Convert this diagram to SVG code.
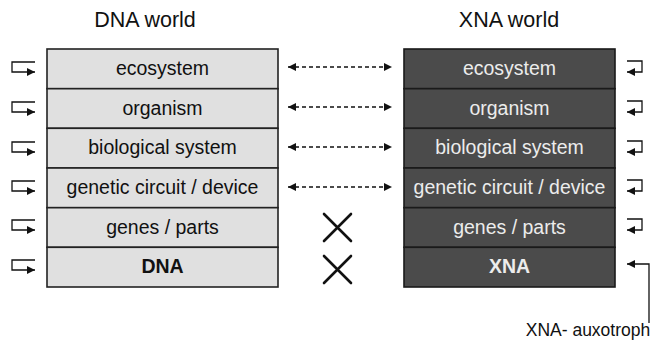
<svg xmlns="http://www.w3.org/2000/svg" width="652" height="346" viewBox="0 0 652 346">
<style>
.t{font-family:"Liberation Sans",Arial,sans-serif;text-anchor:middle}
.title{font-size:21.5px;fill:#111}
.lrow{fill:#e0e0e0;stroke:#222;stroke-width:1.6}
.rrow{fill:#4b4b4b;stroke:#1a1a1a;stroke-width:1.6}
.lt{font-size:19.5px;fill:#111}
.rt{font-size:19.5px;fill:#ececec}
.b{font-weight:bold}
.bent{fill:none;stroke:#111;stroke-width:1.3}
.dash{fill:none;stroke:#111;stroke-width:1.3;stroke-dasharray:4 3}
.x{stroke:#111;stroke-width:2.6;stroke-linecap:round}
</style>
<defs>
<marker id="ah" viewBox="0 0 10 10" refX="10" refY="5" markerWidth="10" markerHeight="8" markerUnits="userSpaceOnUse" orient="auto-start-reverse">
<path d="M0,0 L10,5 L0,10 z" fill="#111"/>
</marker>
</defs>
<text class="t title" x="145" y="27">DNA world</text>
<text class="t title" x="509" y="27">XNA world</text>

<g id="dna-ecosystem"><rect class="lrow" x="47" y="49" width="231" height="39.7"/><text class="t lt" x="162.5" y="75">ecosystem</text></g>
<g id="dna-organism"><rect class="lrow" x="47" y="88.7" width="231" height="39.6"/><text class="t lt" x="162.5" y="114.5">organism</text></g>
<g id="dna-biosystem"><rect class="lrow" x="47" y="128.3" width="231" height="39.7"/><text class="t lt" x="162.5" y="154">biological system</text></g>
<g id="dna-circuit"><rect class="lrow" x="47" y="168" width="231" height="39.7"/><text class="t lt" x="162.5" y="194">genetic circuit / device</text></g>
<g id="dna-genes"><rect class="lrow" x="47" y="207.7" width="231" height="39.6"/><text class="t lt" x="162.5" y="233.5">genes / parts</text></g>
<g id="dna-dna"><rect class="lrow" x="47" y="247.3" width="231" height="39.7"/><text class="t lt b" x="162.5" y="273">DNA</text></g>

<g id="xna-ecosystem"><rect class="rrow" x="404" y="49" width="211" height="39.7"/><text class="t rt" x="509.5" y="75">ecosystem</text></g>
<g id="xna-organism"><rect class="rrow" x="404" y="88.7" width="211" height="39.6"/><text class="t rt" x="509.5" y="114.5">organism</text></g>
<g id="xna-biosystem"><rect class="rrow" x="404" y="128.3" width="211" height="39.7"/><text class="t rt" x="509.5" y="154">biological system</text></g>
<g id="xna-circuit"><rect class="rrow" x="404" y="168" width="211" height="39.7"/><text class="t rt" x="509.5" y="194">genetic circuit / device</text></g>
<g id="xna-genes"><rect class="rrow" x="404" y="207.7" width="211" height="39.6"/><text class="t rt" x="509.5" y="233.5">genes / parts</text></g>
<g id="xna-xna"><rect class="rrow" x="404" y="247.3" width="211" height="39.7"/><text class="t rt b" x="509.5" y="273">XNA</text></g>

<g id="connectors">
<path class="bent" d="M35,62 H12 V72 H35" marker-end="url(#ah)"/>
<path class="bent" d="M35,102 H12 V112 H35" marker-end="url(#ah)"/>
<path class="bent" d="M35,142 H12 V152 H35" marker-end="url(#ah)"/>
<path class="bent" d="M35,181 H12 V191 H35" marker-end="url(#ah)"/>
<path class="bent" d="M35,220 H12 V230 H35" marker-end="url(#ah)"/>
<path class="bent" d="M35,260 H12 V270 H35" marker-end="url(#ah)"/>

<path class="bent" d="M627,61 H642 V72 H627" marker-end="url(#ah)"/>
<path class="bent" d="M627,101 H642 V112 H627" marker-end="url(#ah)"/>
<path class="bent" d="M627,141 H642 V152 H627" marker-end="url(#ah)"/>
<path class="bent" d="M627,180 H642 V191 H627" marker-end="url(#ah)"/>
<path class="bent" d="M627,219 H642 V230 H627" marker-end="url(#ah)"/>
<path class="bent" d="M649,323 V264 H627" marker-end="url(#ah)"/>

<path class="dash" d="M288,67 H392" marker-start="url(#ah)" marker-end="url(#ah)"/>
<path class="dash" d="M288,107 H392" marker-start="url(#ah)" marker-end="url(#ah)"/>
<path class="dash" d="M288,147 H392" marker-start="url(#ah)" marker-end="url(#ah)"/>
<path class="dash" d="M288,187 H392" marker-start="url(#ah)" marker-end="url(#ah)"/>

<path class="x" d="M324,214 L351,241 M351,214 L324,241"/>
<path class="x" d="M324,256 L351,283 M351,256 L324,283"/>
</g>
<text class="t" x="588" y="336" style="font-size:17.5px;fill:#111">XNA- auxotroph</text>
</svg>
